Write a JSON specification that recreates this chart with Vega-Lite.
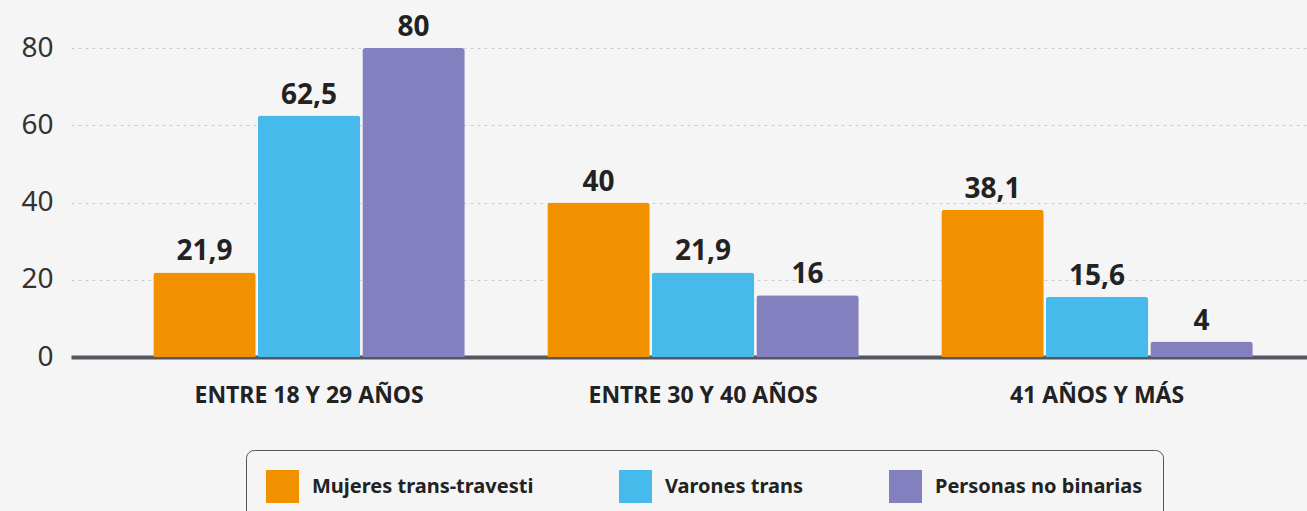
{
  "$schema": "https://vega.github.io/schema/vega-lite/v6.json",
  "width": 1236,
  "height": 309,
  "autosize": "none",
  "padding": {"left": 71, "top": 48, "right": 0, "bottom": 154},
  "background": "#f5f5f5",
  "config": {
    "view": {"stroke": null},
    "font": "Noto Sans",
    "locale": {"number": {"decimal": ",", "thousands": ".", "grouping": [3], "currency": ["$", ""]}}
  },
  "data": {
    "values": [
      {"edad": "ENTRE 18 Y 29 AÑOS", "grupo": "Mujeres trans-travesti", "valor": 21.9},
      {"edad": "ENTRE 18 Y 29 AÑOS", "grupo": "Varones trans", "valor": 62.5},
      {"edad": "ENTRE 18 Y 29 AÑOS", "grupo": "Personas no binarias", "valor": 80},
      {"edad": "ENTRE 30 Y 40 AÑOS", "grupo": "Mujeres trans-travesti", "valor": 40},
      {"edad": "ENTRE 30 Y 40 AÑOS", "grupo": "Varones trans", "valor": 21.9},
      {"edad": "ENTRE 30 Y 40 AÑOS", "grupo": "Personas no binarias", "valor": 16},
      {"edad": "41 AÑOS Y MÁS", "grupo": "Mujeres trans-travesti", "valor": 38.1},
      {"edad": "41 AÑOS Y MÁS", "grupo": "Varones trans", "valor": 15.6},
      {"edad": "41 AÑOS Y MÁS", "grupo": "Personas no binarias", "valor": 4}
    ]
  },
  "encoding": {
    "x": {
      "field": "edad", "type": "nominal", "sort": null,
      "scale": {"paddingInner": 0, "paddingOuter": 0.0685, "align": 0.76},
      "axis": {
        "title": null, "labelAngle": 0, "ticks": false,
        "domainColor": "#55565f", "domainWidth": 4,
        "labelFont": "Noto Sans", "labelFontSize": 23, "labelFontWeight": "bold",
        "labelColor": "#222222", "labelPadding": 27, "labelLimit": 500
      }
    },
    "xOffset": {
      "field": "grupo", "type": "nominal", "sort": null,
      "scale": {"paddingInner": 0.02, "paddingOuter": 0.395}
    },
    "y": {
      "field": "valor", "type": "quantitative",
      "scale": {"domain": [0, 80], "nice": false},
      "axis": {
        "title": null, "values": [0, 20, 40, 60, 80], "domain": false, "ticks": false,
        "labelFontSize": 28, "labelColor": "#333333", "labelPadding": 18,
        "gridColor": "#cccccc", "gridDash": [3, 4], "gridWidth": 1
      }
    }
  },
  "layer": [
    {
      "mark": {"type": "bar", "cornerRadiusTopLeft": 3, "cornerRadiusTopRight": 3},
      "encoding": {
        "color": {
          "field": "grupo", "type": "nominal", "sort": null,
          "scale": {
            "domain": ["Mujeres trans-travesti", "Varones trans", "Personas no binarias"],
            "range": ["#f29100", "#46bbeb", "#8280be"]
          },
          "legend": {
            "title": null, "orient": "none", "direction": "horizontal",
            "legendX": 175, "legendY": 402,
            "symbolType": "square", "symbolSize": 1089, "symbolStrokeWidth": 0,
            "labelFontSize": 20, "labelFontWeight": "bold", "labelColor": "#222222",
            "labelOffset": 13, "columnPadding": 85, "padding": 20,
            "strokeColor": "#555555", "cornerRadius": 8, "fillColor": "#f5f5f5",
            "labelLimit": 400
          }
        }
      }
    },
    {
      "mark": {"type": "text", "baseline": "alphabetic", "dy": -12, "fontSize": 28, "fontWeight": "bold", "color": "#222222"},
      "encoding": {
        "text": {"field": "valor", "type": "quantitative", "format": ".1~f"}
      }
    }
  ]
}
